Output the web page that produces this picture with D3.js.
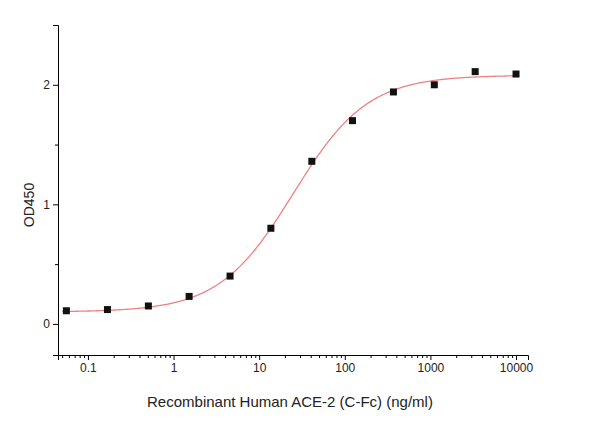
<!DOCTYPE html><html><head><script src="https://cdn.jsdelivr.net/npm/d3@7"></script>
<style>body{margin:0;background:#fff}text{font-family:"Liberation Sans",Arial,sans-serif}</style></head><body>
<svg id="c" width="608" height="431"></svg>
<script>
const conc=[0.056,0.169,0.508,1.52,4.57,13.7,41.2,123,370,1111,3333,10000];
const od=[0.11,0.12,0.15,0.23,0.40,0.80,1.36,1.70,1.94,2.00,2.11,2.09];
const xTicks=[0.1,1,10,100,1000,10000];
const xTickLabels=["0.1","1","10","100","1000","10000"];
const yTicks=[0,1,2];
const fit={bottom:0.1,top:2.08,ec50:25,hill:1.0};
const svg=d3.select("#c");
const x=d3.scaleLog().domain([0.0447,13800]).range([58,528]);
const y=d3.scaleLinear().domain([-0.26,2.5]).range([355,25]);
svg.append("g").attr("transform","translate(0,355)")
 .call(d3.axisBottom(x).tickValues(xTicks).tickFormat((d,i)=>xTickLabels[i]).tickSizeOuter(0).tickSize(5));
const minors=[];for(let e=-2;e<5;e++)for(let m=2;m<10;m++){const v=m*10**e;if(v>0.0447&&v<13800)minors.push(v);}
svg.append("g").attr("transform","translate(0,355)").call(d3.axisBottom(x).tickValues(minors).tickFormat("").tickSize(3).tickSizeOuter(0)).select(".domain").remove();
svg.append("g").attr("transform","translate(58,0)")
 .call(d3.axisLeft(y).tickValues(yTicks).tickFormat(d3.format("d")).tickSizeOuter(0).tickSize(5));
svg.append("g").attr("transform","translate(58,0)").call(d3.axisLeft(y).tickValues([0.5,1.5]).tickFormat("").tickSize(3)).select(".domain").remove();
svg.selectAll(".tick text").attr("font-size",12).attr("fill","#222");
const xs=d3.range(0,301).map(i=>10**(Math.log10(0.05)+i*(4-Math.log10(0.05))/300));
const line=d3.line().x(d=>x(d)).y(d=>y(fit.bottom+(fit.top-fit.bottom)/(1+Math.pow(fit.ec50/d,fit.hill))));
svg.append("path").attr("d",line(xs)).attr("fill","none").attr("stroke","#f08080").attr("stroke-width",1.3);
svg.selectAll("rect.p").data(conc).enter().append("rect").attr("class","p")
 .attr("x",d=>x(d)-3.5).attr("y",(d,i)=>y(od[i])-3.5).attr("width",7).attr("height",7).attr("fill","#111");
svg.append("text").attr("x",290).attr("y",407).attr("text-anchor","middle").attr("font-size",15).attr("fill","#222").text("Recombinant Human ACE-2 (C-Fc) (ng/ml)");
svg.append("text").attr("transform","translate(34,205) rotate(-90)").attr("text-anchor","middle").attr("font-size",14).attr("fill","#222").text("OD450");
</script></body></html>
